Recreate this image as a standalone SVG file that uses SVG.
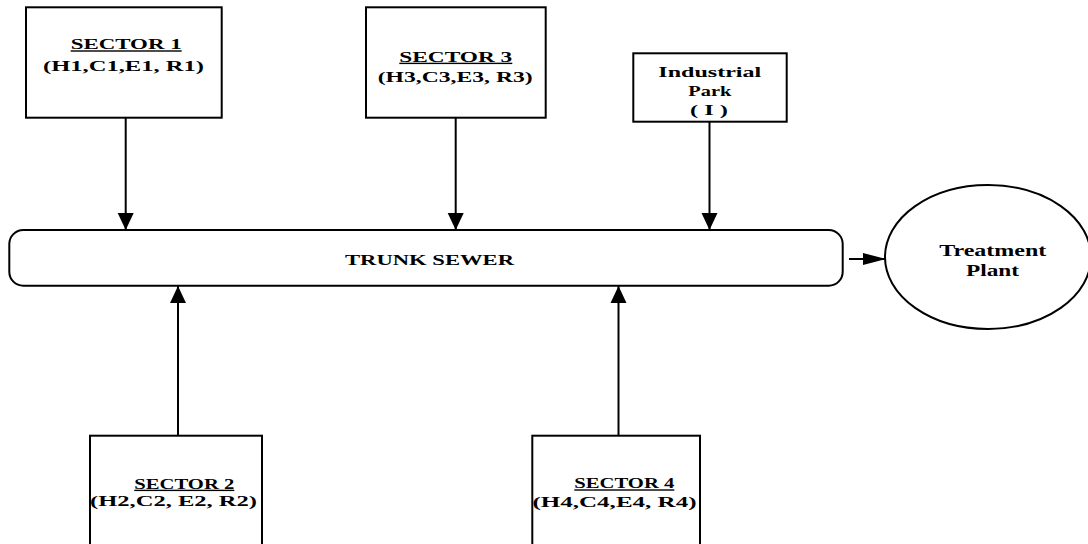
<svg xmlns="http://www.w3.org/2000/svg" width="1088" height="544" viewBox="0 0 1088 544">
<style>
.box{fill:#fff;stroke:#000;stroke-width:2}
.t{font-family:"Liberation Serif","Times New Roman",serif;font-weight:bold;font-size:14px;fill:#000}
.u{text-decoration:underline}
.big{font-size:16px}
.mid{font-size:15px}
.c{stroke:#000;stroke-width:2;fill:none}
</style>
<defs>
<marker id="ah" markerUnits="userSpaceOnUse" markerWidth="18" markerHeight="18" viewBox="0 0 18 18" refX="17" refY="9" orient="auto">
<path d="M0,1 L17,9 L0,17 z" fill="#000"/>
</marker>
<marker id="ah2" markerUnits="userSpaceOnUse" markerWidth="24" markerHeight="14" viewBox="0 0 24 14" refX="23" refY="7" orient="auto">
<path d="M0,1 L23,7 L0,13 z" fill="#000"/>
</marker>
</defs>
<rect width="1088" height="544" fill="#fff"/>
<g id="connectors">
<line class="c" x1="125.7" y1="118" x2="125.7" y2="230" marker-end="url(#ah)"/>
<line class="c" x1="455.7" y1="118" x2="455.7" y2="230" marker-end="url(#ah)"/>
<line class="c" x1="709.5" y1="122" x2="709.5" y2="230" marker-end="url(#ah)"/>
<line class="c" x1="178" y1="436" x2="178" y2="286" marker-end="url(#ah)"/>
<line class="c" x1="618.5" y1="436" x2="618.5" y2="286" marker-end="url(#ah)"/>
<line class="c" x1="849" y1="259" x2="886" y2="259" marker-end="url(#ah2)"/>
</g>
<g id="sector1">
<rect class="box" x="26" y="7.3" width="195.7" height="110.4"/>
<text class="t u" x="70.7" y="49.3" textLength="111" lengthAdjust="spacingAndGlyphs">SECTOR 1</text>
<text class="t" x="43" y="70.7" textLength="161" lengthAdjust="spacingAndGlyphs">(H1,C1,E1, R1)</text>
</g>
<g id="sector3">
<rect class="box" x="366" y="7.3" width="179.7" height="110.4"/>
<text class="t u" x="399.3" y="61.7" textLength="113" lengthAdjust="spacingAndGlyphs">SECTOR 3</text>
<text class="t" x="377.7" y="81.7" textLength="155" lengthAdjust="spacingAndGlyphs">(H3,C3,E3, R3)</text>
</g>
<g id="industrial">
<rect class="box" x="633.3" y="53.3" width="153.4" height="68.4"/>
<text class="t mid" x="658.3" y="77.3" textLength="103" lengthAdjust="spacingAndGlyphs">Industrial</text>
<text class="t mid" x="688.3" y="95.5" textLength="43" lengthAdjust="spacingAndGlyphs">Park</text>
<text class="t mid" x="690" y="115" textLength="38" lengthAdjust="spacingAndGlyphs">( I )</text>
</g>
<g id="trunk">
<rect class="box" x="9.3" y="230" width="833.4" height="55.7" rx="14" ry="14"/>
<text class="t" x="345" y="265" textLength="169" lengthAdjust="spacingAndGlyphs">TRUNK SEWER</text>
</g>
<g id="plant">
<ellipse class="box" cx="988" cy="257" rx="103" ry="72"/>
<text class="t big" x="939.3" y="256" textLength="107" lengthAdjust="spacingAndGlyphs">Treatment</text>
<text class="t big" x="966" y="275.7" textLength="53" lengthAdjust="spacingAndGlyphs">Plant</text>
</g>
<g id="sector2">
<rect class="box" x="90" y="435.7" width="172" height="120"/>
<text class="t u" x="134.3" y="488.7" textLength="100" lengthAdjust="spacingAndGlyphs">SECTOR 2</text>
<text class="t" x="90" y="506" textLength="167" lengthAdjust="spacingAndGlyphs">(H2,C2, E2, R2)</text>
</g>
<g id="sector4">
<rect class="box" x="532.3" y="435.7" width="167.7" height="120"/>
<text class="t u" x="574.3" y="488.3" textLength="100" lengthAdjust="spacingAndGlyphs">SECTOR 4</text>
<text class="t" x="532.5" y="507.3" textLength="164" lengthAdjust="spacingAndGlyphs">(H4,C4,E4, R4)</text>
</g>
</svg>
